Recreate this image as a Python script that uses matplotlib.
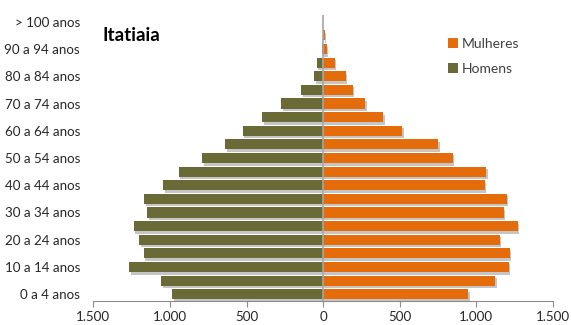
import matplotlib
matplotlib.use("Agg")
import matplotlib.pyplot as plt
import matplotlib.patheffects as pe
from matplotlib.ticker import FuncFormatter
import numpy as np

age_groups = ["0 a 4 anos", "5 a 9 anos", "10 a 14 anos", "15 a 19 anos", "20 a 24 anos",
              "25 a 29 anos", "30 a 34 anos", "35 a 39 anos", "40 a 44 anos", "45 a 49 anos",
              "50 a 54 anos", "55 a 59 anos", "60 a 64 anos", "65 a 69 anos", "70 a 74 anos",
              "75 a 79 anos", "80 a 84 anos", "85 a 89 anos", "90 a 94 anos", "95 a 99 anos",
              "> 100 anos"]
homens = [986, 1058, 1267, 1172, 1202, 1237, 1148, 1168, 1045, 943,
          788, 638, 525, 398, 272, 144, 59, 42, 9, 2, 0]
mulheres = [947, 1121, 1210, 1217, 1151, 1269, 1179, 1197, 1053, 1064,
            846, 751, 516, 392, 272, 193, 146, 76, 22, 10, 2]
x_ticks = [-1500, -1000, -500, 0, 500, 1000, 1500]

orange = "#E46C0A"
olive = "#6A6A36"

plt.rcParams['font.family'] = ['Lato', 'DejaVu Sans']

fig = plt.figure(figsize=(5.71, 3.25), dpi=100)
ax = fig.add_axes([0.1634, 0.0738, 0.8051, 0.88])

y = np.arange(len(age_groups))
shadow = [pe.SimplePatchShadow(offset=(1.2, -1.8), shadow_rgbFace="#808080", alpha=0.45), pe.Normal()]
bm = ax.barh(y, [-v for v in homens], height=0.74, color=olive, label="Homens", zorder=2)
bw = ax.barh(y, mulheres, height=0.74, color=orange, label="Mulheres", zorder=2)
for b in list(bm) + list(bw):
    b.set_path_effects(shadow)

ax.axvline(0, color="#A6A6A6", lw=1.2, zorder=3)

ax.set_xlim(-1500, 1500)
ax.set_ylim(-0.5, len(age_groups) - 0.5)
ax.set_xticks(x_ticks)
ax.xaxis.set_major_formatter(FuncFormatter(lambda v, p: f"{abs(int(v)):,}".replace(",", ".")))
ax.set_yticks(y[::2])
ax.set_yticklabels(age_groups[::2])

for s in ["top", "right", "left"]:
    ax.spines[s].set_visible(False)
ax.spines["bottom"].set_color("#8C8C8C")
ax.tick_params(axis="y", length=0, pad=9.5, labelsize=9.6, labelcolor="#262626")
ax.tick_params(axis="x", length=4, color="#8C8C8C", direction="out", pad=3.5,
               labelsize=9.6, labelcolor="#262626")

ax.text(0.02, 0.93, "Itatiaia", transform=ax.transAxes, fontsize=13.5, fontweight="bold",
        color="black", va="center", ha="left")

handles = [bw, bm]
leg = ax.legend(handles, ["Mulheres", "Homens"], loc="upper left", bbox_to_anchor=(0.745, 0.965),
                frameon=False, fontsize=10, handlelength=0.7, handleheight=0.7,
                handletextpad=0.25, labelspacing=0.95, labelcolor="#404040")
for h in leg.legend_handles:
    h.set_path_effects([])

fig.savefig("out.png", dpi=100)
